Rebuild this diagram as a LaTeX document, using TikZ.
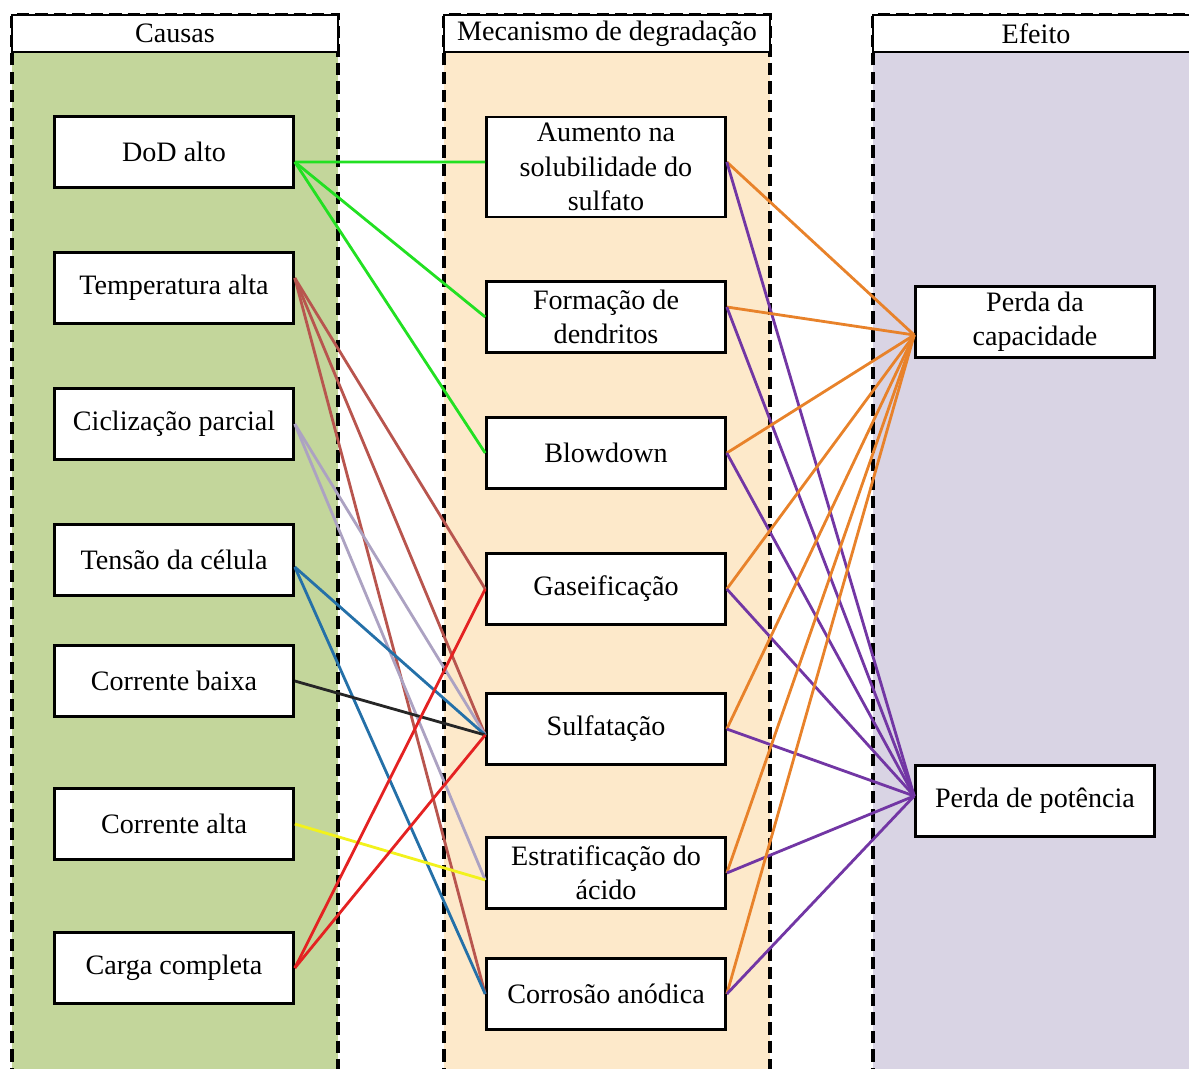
\documentclass[tikz,border=0pt]{standalone}
\usepackage{fontspec}
\setmainfont{Liberation Serif}

\definecolor{causefill}{HTML}{C3D69B}
\definecolor{mechfill}{HTML}{FDE9CA}
\definecolor{effectfill}{HTML}{D9D4E4}
\definecolor{dodgreen}{HTML}{22E022}
\definecolor{tempbrown}{HTML}{B8554E}
\definecolor{ciclgrey}{HTML}{ACA2C2}
\definecolor{tensblue}{HTML}{2470A8}
\definecolor{baixablack}{HTML}{262626}
\definecolor{altayellow}{HTML}{F2F21C}
\definecolor{cargared}{HTML}{E42222}
\definecolor{capacorange}{HTML}{E8822A}
\definecolor{potpurple}{HTML}{7236A4}

\begin{document}
\begin{tikzpicture}[x=0.02cm, y=-0.02cm,
    box/.style={draw, line width=1.5pt, fill=white, minimum width=4.78cm,
        minimum height=1.42cm, align=center, inner sep=2pt,
        font=\fontsize{16}{19.5}\selectfont},
    head/.style={draw, line width=1.5pt, fill=white, minimum width=6.52cm,
        minimum height=0.74cm, inner sep=0pt, font=\fontsize{16}{19}\selectfont},
    column/.style={line width=1.9pt, dash pattern=on 7pt off 3.5pt},
    link/.style={line width=1.6pt}]
    \useasboundingbox (0,0) rectangle (1189,1068);

    % columns
    \fill[causefill] (12,15) rectangle (338,1080);
    \fill[mechfill] (444,15) rectangle (770,1080);
    \fill[effectfill] (873,15) rectangle (1200,1080);
    \draw[column] (12,1080) -- (12,15) -- (338,15) -- (338,1080);
    \draw[column] (444,1080) -- (444,15) -- (770,15) -- (770,1080);
    \draw[column] (873,1080) -- (873,15) -- (1200,15);

    \node[head] (causas) at (175,33.5) {Causas};
    \node[head] (mecanismo) at (607,33.5) {Mecanismo de degradação};
    \node[head] (efeito) at (1036,33.5) {Efeito};

    % causas
    \node[box] (dod) at (174,152) {DoD alto};
    \node[box] (temp) at (174,288) {Temperatura alta};
    \node[box] (cicl) at (174,424) {Ciclização parcial};
    \node[box] (tensao) at (174,560) {Tensão da célula};
    \node[box] (baixa) at (174,681) {Corrente baixa};
    \node[box] (alta) at (174,824) {Corrente alta};
    \node[box] (carga) at (174,968) {Carga completa};

    % mecanismos
    \node[box, minimum height=2cm] (aumento) at (606,167) {Aumento na\\solubilidade do\\sulfato};
    \node[box] (formacao) at (606,317) {Formação de\\dendritos};
    \node[box] (blowdown) at (606,453) {Blowdown};
    \node[box] (gaseif) at (606,589) {Gaseificação};
    \node[box] (sulfat) at (606,729) {Sulfatação};
    \node[box] (estrat) at (606,873) {Estratificação do\\ácido};
    \node[box] (corrosao) at (606,994) {Corrosão anódica};

    % efeitos
    \node[box] (capac) at (1035,322) {Perda da\\capacidade};
    \node[box] (potencia) at (1035,801) {Perda de potência};

    % pontos de ligacao
    \coordinate (dodout) at ([yshift=-0.2cm]dod.east);
    \coordinate (tempout) at ([yshift=0.2cm]temp.east);
    \coordinate (tensaoout) at ([yshift=-0.14cm]tensao.east);
    \coordinate (aumentoin) at ([yshift=0.1cm]aumento.west);
    \coordinate (aumentoout) at ([yshift=0.1cm]aumento.east);
    \coordinate (formacaoout) at ([yshift=0.2cm]formacao.east);
    \coordinate (sulfatin) at ([yshift=-0.12cm]sulfat.west);
    \coordinate (estratin) at ([yshift=-0.14cm]estrat.west);
    \coordinate (capacin) at ([yshift=-0.26cm]capac.west);
    \coordinate (potenciain) at ([yshift=0.1cm]potencia.west);

    % causas -> mecanismos
    \draw[link, dodgreen] (dodout) -- (aumentoin);
    \foreach \m in {formacao,blowdown}
        \draw[link, dodgreen] (dodout) -- (\m.west);
    \draw[link, tempbrown] (tempout) -- (gaseif.west);
    \draw[link, tempbrown] (tempout) -- (sulfatin);
    \draw[link, tempbrown] (tempout) -- (corrosao.west);
    \draw[link, ciclgrey] (cicl.east) -- (sulfatin);
    \draw[link, ciclgrey] (cicl.east) -- (estratin);
    \draw[link, tensblue] (tensaoout) -- (sulfatin);
    \draw[link, tensblue] (tensaoout) -- (corrosao.west);
    \draw[link, baixablack] (baixa.east) -- (sulfatin);
    \draw[link, altayellow] (alta.east) -- (estratin);
    \draw[link, cargared] (carga.east) -- (gaseif.west);
    \draw[link, cargared] (carga.east) -- (sulfatin);

    % mecanismos -> efeitos
    \foreach \m in {aumentoout,formacaoout,blowdown.east,gaseif.east,sulfat.east,estrat.east,corrosao.east} {
        \draw[link, capacorange] (\m) -- (capacin);
        \draw[link, potpurple] (\m) -- (potenciain);
    }
\end{tikzpicture}
\end{document}
